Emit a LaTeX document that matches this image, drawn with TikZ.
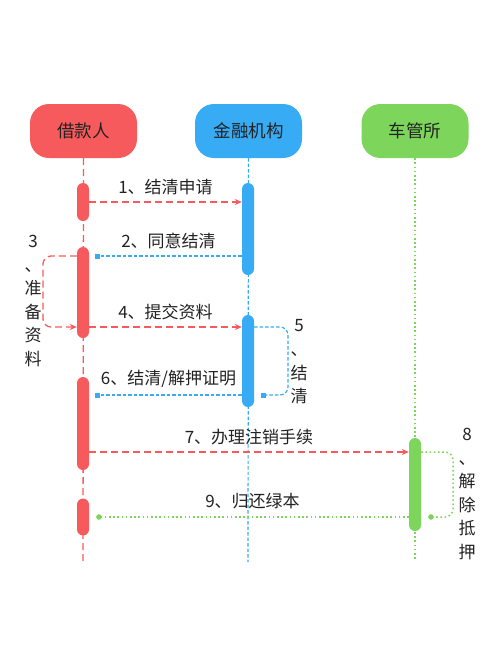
\documentclass[tikz,border=0pt]{standalone}
\usepackage{fontspec}
\setmainfont{Noto Sans CJK SC}
\usepackage{tikz}
\usetikzlibrary{arrows.meta,positioning}
\definecolor{loanred}{HTML}{F75A5C}
\definecolor{bankblue}{HTML}{37ABF3}
\definecolor{dmvgreen}{HTML}{7DD65B}
\definecolor{ink}{HTML}{222222}

\begin{document}
\begin{tikzpicture}[x=1pt,y=-1pt,
  head/.style={fill=#1,rounded corners=19pt,minimum width=107pt,minimum height=54pt,font=\fontsize{17.5}{20}\selectfont,text=ink},
  bar/.style={fill=#1,rounded corners=6pt,minimum width=12pt,inner sep=0pt},
  msg/.style={font=\fontsize{17}{20}\selectfont,text=ink},
  vlab/.style={font=\fontsize{17}{23.6}\selectfont,align=center,text=ink,inner sep=0pt},
  rline/.style={loanred,line width=1.3pt,dash pattern=on 7pt off 4pt},
  bline/.style={bankblue,line width=1.2pt,dash pattern=on 3.5pt off 2pt},
  gline/.style={dmvgreen,line width=1.5pt,dash pattern=on 1.6pt off 2.6pt},
  tri/.style={-{Stealth[length=7pt,width=6pt]}},
  sq/.style={-{Square[length=5pt,width=5pt]}},
  dot/.style={-{Circle[length=5.5pt,width=5.5pt]}}]
\useasboundingbox (0,0) rectangle (500,653);
% header boxes
\node[head=loanred] (borrower) at (83.5,131) {借款人};
\node[head=bankblue] (bank) at (248.5,131) {金融机构};
\node[head=dmvgreen] (dmv) at (415,131) {车管所};
% lifelines
\coordinate (rend) at (83,563);
\coordinate (bend) at (248,562);
\coordinate (gend) at (415,560);
\draw[rline] (borrower.south) -- (rend);
\draw[bline] (bank.south) -- (bend);
\draw[gline] (dmv.south) -- (gend);
% activation bars
\foreach \n/\y/\h in {r1/202/38,r2/292.5/91,r3/423.5/93,r4/517/37}
  \node[bar=loanred,minimum height=\h pt] (\n) at (83,\y) {};
\foreach \n/\y/\h in {b1/229/92,b2/361/92}
  \node[bar=bankblue,minimum height=\h pt] (\n) at (248,\y) {};
\node[bar=dmvgreen,minimum height=93pt] (g1) at (415,484.5) {};
% message rows and loop turns
\foreach \n/\y in {m2/256,m3/327,m6/395,m7/452}
  \coordinate (\n) at (0,\y);
\coordinate (l3) at (43,290);
\coordinate (l5) at (288,360);
\coordinate (l8) at (453,485);
% messages
\draw[rline,tri] (r1.east) -- (b1.west |- r1.east)
  node[msg,midway,above=3.5pt] (t1) {1、结清申请};
\draw[bline,sq] (b1.west |- m2) -- ([xshift=6pt]r2.east |- m2)
  node[msg,midway,above=3.5pt] (t2) {2、同意结清};
\draw[rline,tri,rounded corners=8pt] (r2.west |- m2) -| (l3) |- (r2.west |- m3);
\node[vlab] (t3) at (33,301) {3\\、\\准\\备\\资\\料};
\draw[rline,tri] (r2.east |- m3) -- (b2.west |- m3)
  node[msg,midway,above=3.5pt] (t4) {4、提交资料};
\draw[bline,sq,rounded corners=8pt] (b2.east |- m3) -| (l5) |- ([xshift=7pt]b2.east |- m6);
\node[vlab] (t5) at (299,362) {5\\、\\结\\清};
\draw[bline,sq] (b2.west |- m6) -- ([xshift=6pt]r3.east |- m6)
  node[msg,midway,above=3.5pt] (t6) {6、结清/解押证明};
\draw[rline,tri] (r3.east |- m7) -- (g1.west |- m7)
  node[msg,midway,above=3.5pt] (t7) {7、办理注销手续};
\draw[gline,dot,rounded corners=8pt] (g1.east |- m7) -| (l8) |- ([xshift=7pt]g1.east |- r4.east);
\node[vlab] (t8) at (467,494) {8\\、\\解\\除\\抵\\押};
\draw[gline,dot] (g1.west |- r4.east) -- ([xshift=7pt]r4.east)
  node[msg,midway,above=3.5pt] (t9) {9、归还绿本};
\end{tikzpicture}
\end{document}
